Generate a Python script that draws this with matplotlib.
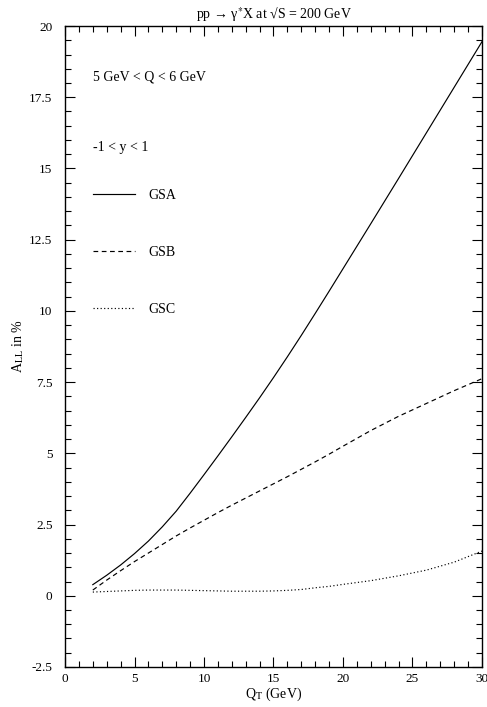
import matplotlib
matplotlib.use("Agg")
import matplotlib.pyplot as plt
from matplotlib.ticker import MultipleLocator
import numpy as np

plt.rcParams['font.family'] = ['Liberation Serif', 'DejaVu Serif']
plt.rcParams['mathtext.fontset'] = 'stix'

# Q_T values (GeV) and asymmetries A_LL in %
qt = [2, 3, 4, 5, 6, 7, 8, 9, 10, 11, 12, 13, 14, 15, 16, 17, 18, 19, 20,
      22, 24, 26, 28, 30]
gsa = [0.39, 0.72, 1.08, 1.48, 1.92, 2.42, 2.97, 3.6, 4.25, 4.91, 5.58, 6.26,
       6.95, 7.66, 8.39, 9.14, 9.91, 10.69, 11.48, 13.06, 14.65, 16.25, 17.85, 19.45]
gsb = [0.2, 0.55, 0.88, 1.2, 1.5, 1.8, 2.1, 2.38, 2.65, 2.92, 3.18, 3.43,
       3.68, 3.93, 4.18, 4.44, 4.7, 4.97, 5.25, 5.8, 6.3, 6.75, 7.2, 7.62]
gsc = [0.13, 0.15, 0.17, 0.19, 0.2, 0.2, 0.2, 0.19, 0.18, 0.17, 0.16, 0.16,
       0.16, 0.17, 0.19, 0.22, 0.28, 0.33, 0.4, 0.53, 0.7, 0.9, 1.18, 1.57]

fig = plt.figure(figsize=(4.87, 7.07), dpi=100)
ax = fig.add_axes([0.1335, 0.0566, 0.8562, 0.9066])

ax.plot(qt, gsa, color='black', lw=0.85, ls='-', label='GSA')
ax.plot(qt, gsb, color='black', lw=0.85, ls=(0, (4, 3)), label='GSB')
ax.plot(qt, gsc, color='black', lw=0.85, ls=(0, (1, 2)), label='GSC')

ax.set_xlim(0, 30)
ax.set_ylim(-2.5, 20)
ax.xaxis.set_major_locator(MultipleLocator(5))
ax.xaxis.set_minor_locator(MultipleLocator(1))
ax.yaxis.set_minor_locator(MultipleLocator(0.5))
ax.set_yticks(np.arange(-2.5, 20.1, 2.5))
ax.set_yticklabels(['-2.5', '0', '2.5', '5', '7.5', '10', '12.5', '15', '17.5', '20'])

ax.tick_params(which='both', direction='in', top=True, right=True, labelsize=9.5, width=0.8)
ax.tick_params(which='major', length=7)
ax.tick_params(which='minor', length=4)
ax.tick_params(axis='x', pad=4)
ax.tick_params(axis='y', pad=9)
for s in ax.spines.values():
    s.set_linewidth(1.0)

ax.set_title(r'pp → γ$^{*}$X at √S = 200 GeV', fontsize=10, pad=5)
ax.set_xlabel(r'Q$_{\rm T}$ (GeV)', fontsize=10, labelpad=1)
ax.set_ylabel(r'A$_{\rm LL}$ in %', fontsize=10, labelpad=2)

ax.text(0.067, 0.9204, '5 GeV < Q < 6 GeV', transform=ax.transAxes, fontsize=10, va='center')
ax.text(0.067, 0.8097, '-1 < y < 1', transform=ax.transAxes, fontsize=10, va='center')

ax.legend(loc='upper left', bbox_to_anchor=(0.067, 0.7465), frameon=False,
          fontsize=10, handlelength=3.0, handletextpad=1.0, labelspacing=3.19,
          borderaxespad=0, borderpad=0)

fig.savefig('out.png', dpi=100)
